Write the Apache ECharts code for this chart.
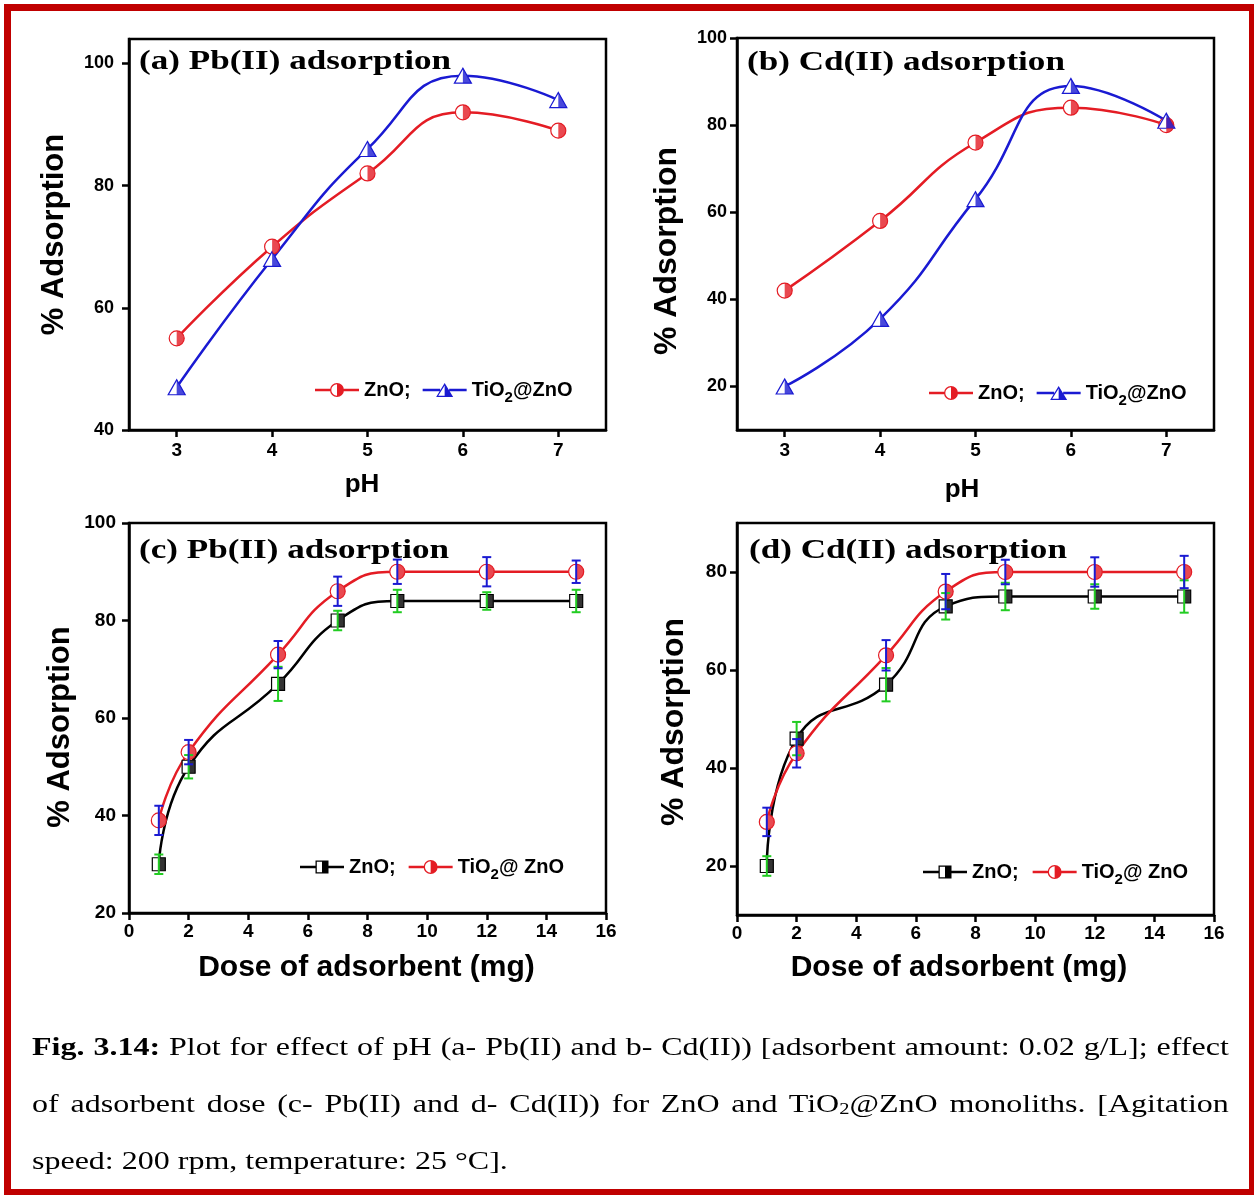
<!DOCTYPE html>
<html><head><meta charset="utf-8">
<script src="https://cdn.jsdelivr.net/npm/echarts@6/dist/echarts.min.js"></script>
<style>
html,body{margin:0;padding:0;background:#fff;width:1254px;height:1195px;overflow:hidden;}
#chart{position:absolute;left:0;top:0;width:1254px;height:1195px;}
#frame{position:absolute;left:4px;top:4px;width:1252px;height:1192px;border:7px solid #c00000;box-sizing:border-box;pointer-events:none;}
#caption{position:absolute;left:32px;top:1018px;font-family:'Liberation Serif','Times New Roman',serif;font-size:25px;line-height:57px;color:#000;transform:scaleX(1.28);transform-origin:0 0;width:935px;}
#caption .j{text-align:justify;text-align-last:justify;}
#caption .sub{font-size:16px;line-height:0;vertical-align:-2px;}
</style></head>
<body>
<div id="chart"></div>
<div id="caption">
<div class="j"><b>Fig. 3.14:</b> Plot for effect of pH (a- Pb(II) and b- Cd(II)) [adsorbent amount: 0.02 g/L]; effect</div>
<div class="j">of adsorbent dose (c- Pb(II) and d- Cd(II)) for ZnO and TiO<span class="sub">2</span>@ZnO monoliths. [Agitation</div>
<div>speed: 200 rpm, temperature: 25 °C].</div>
</div>
<div id="frame"></div>
<script>
// ---------------- data ----------------
const phValues = [3, 4, 5, 6, 7];
const phTicks = [3, 4, 5, 6, 7];
// (a) Pb(II) vs pH
const aZnO = [55, 70, 82, 92, 89];
const aTiO2 = [47, 68, 86, 98, 94];
const aYTicks = [40, 60, 80, 100];
// (b) Cd(II) vs pH
const bZnO = [42, 58, 76, 84, 80];
const bTiO2 = [20, 35.5, 63, 89, 81];
const bYTicks = [20, 40, 60, 80, 100];
// (c) Pb(II) vs dose
const doseValues = [1, 2, 5, 7, 9, 12, 15];
const doseTicks = [0, 2, 4, 6, 8, 10, 12, 14, 16];
const cZnO = [30, 50, 67, 80, 84, 84, 84];
const cZnOErr = [2, 2.4, 3.5, 2, 2.3, 1.8, 2.3];
const cTiO2 = [39, 53, 73, 86, 90, 90, 90];
const cTiO2Err = [3, 2.5, 2.8, 3, 2.5, 3, 2.3];
const cYTicks = [20, 40, 60, 80, 100];
// (d) Cd(II) vs dose
const dZnO = [20, 46, 57, 73, 75, 75, 75];
const dZnOErr = [2, 3.4, 3.4, 2.7, 2.8, 2.5, 3.3];
const dTiO2 = [29, 43, 63, 76, 80, 80, 80];
const dTiO2Err = [2.9, 2.9, 3.1, 3.6, 2.5, 3, 3.3];
const dYTicks = [20, 40, 60, 80];

// ---------------- styles ----------------
const RED = '#e41c24', BLUE = '#1a1ad2', BLACK = '#000000', GREEN = '#22cc22';
const FONT = "'Liberation Sans', Arial, sans-serif";
const SERIF = "'Liberation Serif', 'Times New Roman', serif";

const HALF_CIRCLE = 'path://M0,0 A10,10 0 0,1 0,20 Z';
const HALF_TRI = 'path://M0,0 L10,20 L0,20 Z';
const ICON_CIRCLE = 'path://M0,5.8 L15.2,5.8 L15.2,8.2 L0,8.2 Z M28.8,5.8 L44,5.8 L44,8.2 L28.8,8.2 Z M15,7 A7,7 0 1,1 29,7 A7,7 0 1,1 15,7 Z M16.3,7 A5.7,5.7 0 1,0 27.7,7 A5.7,5.7 0 1,0 16.3,7 Z M22,1.3 A5.7,5.7 0 0,1 22,12.7 Z';
const ICON_TRI = 'path://M0,5.8 L17.5,5.8 L17.5,8.2 L0,8.2 Z M26.5,5.8 L44,5.8 L44,8.2 L26.5,8.2 Z M22,0 L30.5,14 L13.5,14 Z M22,2.6 L15.6,12.8 L28.4,12.8 Z M22,2.6 L28.4,12.8 L22,12.8 Z';
const ICON_SQ = 'path://M0,5.8 L15.5,5.8 L15.5,8.2 L0,8.2 Z M28.5,5.8 L44,5.8 L44,8.2 L28.5,8.2 Z M15.5,0.5 L28.5,0.5 L28.5,13.5 L15.5,13.5 Z M16.8,1.8 L16.8,12.2 L27.2,12.2 L27.2,1.8 Z M22,1.8 L27.2,1.8 L27.2,12.2 L22,12.2 Z M0,0 L0.01,0 L0.01,0.01 Z M0,14 L0.01,14 L0.01,13.99 Z';

const LABELS = {
  'a:ZnO': '{a|ZnO;}', 'a:TiO2': '{a|TiO}{s|2}{a|@ZnO}',
  'b:ZnO': '{a|ZnO;}', 'b:TiO2': '{a|TiO}{s|2}{a|@ZnO}',
  'c:ZnO': '{a|ZnO;}', 'c:TiO2': '{a|TiO}{s|2}{a|@ ZnO}',
  'd:ZnO': '{a|ZnO;}', 'd:TiO2': '{a|TiO}{s|2}{a|@ ZnO}'
};

const pair = (xs, ys) => xs.map((x, i) => [x, ys[i]]);
const errData = (xs, ys, es) => xs.map((x, i) => [x, ys[i] - es[i], ys[i] + es[i]]);

function lineSeries(name, gi, xs, ys, color, symbol, size) {
  return {
    type: 'line', name, xAxisIndex: gi, yAxisIndex: gi, data: pair(xs, ys),
    smooth: true, symbol, symbolSize: size, showAllSymbol: true,
    lineStyle: { color, width: 2.5 },
    itemStyle: { color: '#ffffff', borderColor: color, borderWidth: 1.2 },
    emphasis: { disabled: true }, z: 3, animation: false
  };
}
function halfSeries(name, gi, xs, ys, color, symbol, size) {
  return {
    type: 'scatter', name, xAxisIndex: gi, yAxisIndex: gi, data: pair(xs, ys),
    symbol, symbolSize: [size[0] / 2, size[1]], symbolOffset: [size[0] / 4, 0],
    itemStyle: { color }, silent: true, z: 4, animation: false
  };
}
function errSeries(gi, xs, ys, es, color) {
  return {
    type: 'custom', xAxisIndex: gi, yAxisIndex: gi, data: errData(xs, ys, es),
    encode: { x: 0, y: [1, 2] }, z: 5, silent: true, animation: false,
    renderItem: (params, api) => {
      const x = api.value(0);
      const lo = api.coord([x, api.value(1)]);
      const hi = api.coord([x, api.value(2)]);
      const w = 4.5;
      const st = { stroke: color, lineWidth: 2 };
      return { type: 'group', children: [
        { type: 'line', shape: { x1: hi[0], y1: hi[1], x2: lo[0], y2: lo[1] }, style: st },
        { type: 'line', shape: { x1: hi[0] - w, y1: hi[1], x2: hi[0] + w, y2: hi[1] }, style: st },
        { type: 'line', shape: { x1: lo[0] - w, y1: lo[1], x2: lo[0] + w, y2: lo[1] }, style: st }
      ]};
    }
  };
}
function axis(gi, min, max, interval, ticks, fs, margin) {
  return {
    type: 'value', gridIndex: gi, min, max, interval,
    axisLine: { show: true, onZero: false, lineStyle: { color: '#000', width: 2.5 } },
    axisTick: { show: true, inside: false, length: 7, customValues: ticks, lineStyle: { color: '#000', width: 2.5 } },
    axisLabel: { show: true, customValues: ticks, color: '#000', fontFamily: FONT, fontWeight: 'bold', fontSize: fs, margin },
    splitLine: { show: false }, minorTick: { show: false }
  };
}
function legend(left, top, gap, items) {
  return {
    left, top, orient: 'horizontal', padding: 0, itemGap: gap, itemWidth: 44, itemHeight: 14,
    selectedMode: false, data: items, formatter: n => LABELS[n],
    textStyle: { fontFamily: FONT, fontWeight: 'bold', fontSize: 20, color: '#000',
      rich: {
        a: { fontFamily: FONT, fontSize: 20, fontWeight: 'bold', color: '#000', lineHeight: 30, verticalAlign: 'middle' },
        s: { fontFamily: FONT, fontSize: 15, fontWeight: 'bold', color: '#000', lineHeight: 15, verticalAlign: 'bottom' }
      } }
  };
}
const gridBase = { show: true, borderColor: '#000', borderWidth: 2.5, backgroundColor: 'transparent', containLabel: false };

function txt(text, x, y, font, opts) {
  return Object.assign({ type: 'text', x, y, z: 20, silent: true,
    style: { text, font, fill: '#000', textAlign: 'center', textVerticalAlign: 'middle', align: 'center', verticalAlign: 'middle' } }, opts || {});
}
function title(text, x, y) {
  return { type: 'text', x, y, scaleX: 1.3, z: 20, silent: true,
    style: { text, font: 'bold 27px ' + SERIF, fill: '#000', textAlign: 'left', align: 'left', textVerticalAlign: 'middle', verticalAlign: 'middle' } };
}

const option = {
  animation: false,
  backgroundColor: '#ffffff',
  grid: [
    Object.assign({ left: 129, top: 39, width: 477, height: 391 }, gridBase),
    Object.assign({ left: 737, top: 38, width: 477, height: 392 }, gridBase),
    Object.assign({ left: 129, top: 523, width: 477, height: 390 }, gridBase),
    Object.assign({ left: 737, top: 523, width: 477, height: 392 }, gridBase)
  ],
  xAxis: [
    axis(0, 2.5, 7.5, 1, phTicks, 19, 11),
    axis(1, 2.5, 7.5, 1, phTicks, 19, 11),
    axis(2, 0, 16, 2, doseTicks, 19, 9),
    axis(3, 0, 16, 2, doseTicks, 19, 9)
  ],
  yAxis: [
    axis(0, 40, 104, 20, aYTicks, 18, 15),
    axis(1, 10, 100, 10, bYTicks, 18, 10),
    axis(2, 20, 100, 20, cYTicks, 19, 13),
    axis(3, 10, 90, 10, dYTicks, 19, 10)
  ],
  legend: [
    legend(315, 380, 12, [
      { name: 'a:ZnO', icon: ICON_CIRCLE, itemStyle: { color: RED, borderWidth: 0 } },
      { name: 'a:TiO2', icon: ICON_TRI, itemStyle: { color: BLUE, borderWidth: 0 } }]),
    legend(929, 383, 12, [
      { name: 'b:ZnO', icon: ICON_CIRCLE, itemStyle: { color: RED, borderWidth: 0 } },
      { name: 'b:TiO2', icon: ICON_TRI, itemStyle: { color: BLUE, borderWidth: 0 } }]),
    legend(300, 857, 13, [
      { name: 'c:ZnO', icon: ICON_SQ, itemStyle: { color: BLACK, borderWidth: 0 } },
      { name: 'c:TiO2', icon: ICON_CIRCLE, itemStyle: { color: RED, borderWidth: 0 } }]),
    legend(923, 862, 14, [
      { name: 'd:ZnO', icon: ICON_SQ, itemStyle: { color: BLACK, borderWidth: 0 } },
      { name: 'd:TiO2', icon: ICON_CIRCLE, itemStyle: { color: RED, borderWidth: 0 } }])
  ],
  series: [
    // (a)
    lineSeries('a:ZnO', 0, phValues, aZnO, RED, 'circle', [15, 15]),
    halfSeries('a:ZnO-h', 0, phValues, aZnO, RED, HALF_CIRCLE, [15, 15]),
    lineSeries('a:TiO2', 0, phValues, aTiO2, BLUE, 'triangle', [17, 15]),
    halfSeries('a:TiO2-h', 0, phValues, aTiO2, BLUE, HALF_TRI, [17, 15]),
    // (b)
    lineSeries('b:ZnO', 1, phValues, bZnO, RED, 'circle', [15, 15]),
    halfSeries('b:ZnO-h', 1, phValues, bZnO, RED, HALF_CIRCLE, [15, 15]),
    lineSeries('b:TiO2', 1, phValues, bTiO2, BLUE, 'triangle', [17, 15]),
    halfSeries('b:TiO2-h', 1, phValues, bTiO2, BLUE, HALF_TRI, [17, 15]),
    // (c)
    lineSeries('c:ZnO', 2, doseValues, cZnO, BLACK, 'rect', [13, 13]),
    halfSeries('c:ZnO-h', 2, doseValues, cZnO, BLACK, 'rect', [13, 13]),
    lineSeries('c:TiO2', 2, doseValues, cTiO2, RED, 'circle', [15, 15]),
    halfSeries('c:TiO2-h', 2, doseValues, cTiO2, RED, HALF_CIRCLE, [15, 15]),
    errSeries(2, doseValues, cZnO, cZnOErr, GREEN),
    errSeries(2, doseValues, cTiO2, cTiO2Err, BLUE),
    // (d)
    lineSeries('d:ZnO', 3, doseValues, dZnO, BLACK, 'rect', [13, 13]),
    halfSeries('d:ZnO-h', 3, doseValues, dZnO, BLACK, 'rect', [13, 13]),
    lineSeries('d:TiO2', 3, doseValues, dTiO2, RED, 'circle', [15, 15]),
    halfSeries('d:TiO2-h', 3, doseValues, dTiO2, RED, HALF_CIRCLE, [15, 15]),
    errSeries(3, doseValues, dZnO, dZnOErr, GREEN),
    errSeries(3, doseValues, dTiO2, dTiO2Err, BLUE)
  ],
  graphic: [
    title('(a) Pb(II) adsorption', 139, 62),
    title('(b) Cd(II) adsorption', 747, 63),
    title('(c) Pb(II) adsorption', 139, 551),
    title('(d) Cd(II) adsorption', 749, 551),
    txt('% Adsorption', 54, 234.5, 'bold 31px ' + FONT, { rotation: Math.PI / 2 }),
    txt('% Adsorption', 667, 251, 'bold 32px ' + FONT, { rotation: Math.PI / 2 }),
    txt('% Adsorption', 60, 727, 'bold 31px ' + FONT, { rotation: Math.PI / 2 }),
    txt('% Adsorption', 674.5, 722, 'bold 32px ' + FONT, { rotation: Math.PI / 2 }),
    txt('pH', 362, 485, 'bold 26px ' + FONT),
    txt('pH', 962, 490, 'bold 26px ' + FONT),
    txt('Dose of adsorbent (mg)', 366.5, 968, 'bold 30px ' + FONT),
    txt('Dose of adsorbent (mg)', 959, 967.5, 'bold 30px ' + FONT)
  ]
};
const chart = echarts.init(document.getElementById('chart'), null, { renderer: 'canvas' });
chart.setOption(option);
</script>
</body></html>
